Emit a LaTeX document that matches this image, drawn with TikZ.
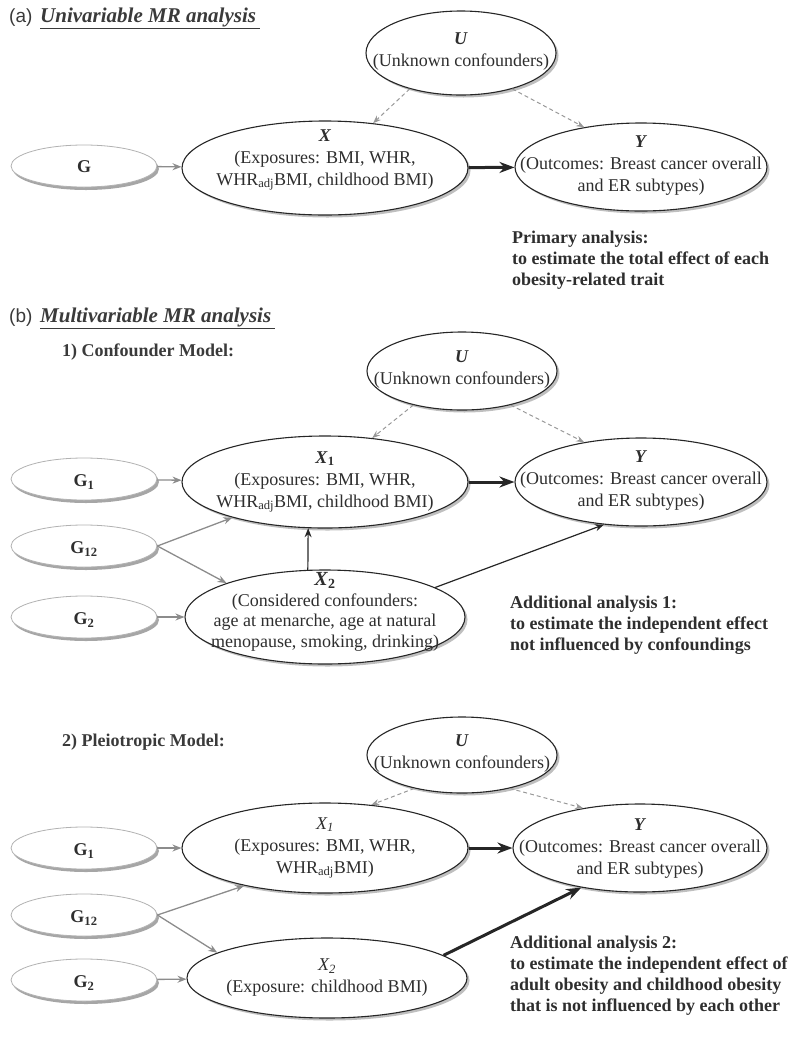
\documentclass[tikz,border=0pt]{standalone}
\usepackage{fontspec}
\setmainfont{Liberation Serif}
\newfontfamily\hdsans{Liberation Sans}
\usetikzlibrary{shapes.geometric,arrows.meta,shadows,calc}
\definecolor{txt}{HTML}{2E2E2E}
\definecolor{hdr}{HTML}{3A3A3A}
\tikzset{
  ell/.style={ellipse, draw=black!85, line width=1.1pt, fill=white, inner sep=0pt,
    drop shadow={shadow xshift=2.5pt, shadow yshift=-2.5pt, fill=black!25, opacity=1}},
  gell/.style={ellipse, draw=black!30, line width=0.8pt, fill=white, inner sep=0pt,
    minimum width=146pt, minimum height=42pt,
    drop shadow={shadow xshift=2pt, shadow yshift=-3pt, fill=black!35, opacity=1}},
  tx/.style={align=center, font=\fontsize{18}{22}\selectfont, text=txt, inner sep=0pt},
  gtx/.style={font=\bfseries\fontsize{18}{22}\selectfont, text=txt, inner sep=0pt},
  bt/.style={align=left, anchor=north west, inner sep=0pt, font=\bfseries\fontsize{18}{21}\selectfont, text=txt},
  hd/.style={anchor=west, inner sep=0pt, text=hdr},
  garr/.style={-{Stealth[length=9pt,width=7pt]}, draw=black!45, line width=1.3pt},
  karr/.style={-{Stealth[length=15pt,width=11pt]}, draw=black!85, line width=3pt},
  tarr/.style={-{Stealth[length=9pt,width=7pt]}, draw=black!85, line width=1.2pt},
  darr/.style={-{Stealth[length=8pt,width=6pt]}, dash pattern=on 4pt off 3pt, draw=black!40, line width=1pt},
}
\begin{document}
\begin{tikzpicture}[x=1pt,y=-1pt]
\useasboundingbox (0,0) rectangle (800,1037);
% ---------------- (a)
\node[hd] (ha) at (9,18) {\hdsans\fontsize{19}{20}\selectfont (a)};
\node[hd] (hat) at (40,18) {\bfseries\itshape\fontsize{21}{24}\selectfont\underline{Univariable MR analysis\,}};

\node[ell, minimum width=190pt, minimum height=84pt] (Ua) at (461,53) {};
\node[tx] (Uat) at (461,52) {\textbf{\textit{U}}\\(Unknown confounders)};
\node[ell, minimum width=286pt, minimum height=94pt] (Xa) at (325,168) {};
\node[tx] (Xat) at (325,160) {\textbf{\textit{X}}\\(Exposures: BMI, WHR,\\WHR\textsubscript{adj}BMI, childhood BMI)};
\node[ell, minimum width=252pt, minimum height=88pt] (Ya) at (641,167) {};
\node[tx] (Yat) at (641,166) {\textbf{\textit{Y}}\\(Outcomes: Breast cancer overall\\and ER subtypes)};
\node[gell] (Ga) at (84,166) {};
\node[gtx] (Gat) at (84,167) {G};

\draw[garr] (Ga) -- (Xa);
\draw[karr] (Xa) -- (Ya);
\draw[darr] (Ua.215) -- (Xa.43);
\draw[darr] (Ua.325) -- (Ya.145);

\node[bt] (pa) at (512,231) {Primary analysis:\\to estimate the total effect of each\\obesity-related trait};

% ---------------- (b)
\node[hd] (hb) at (9,318) {\hdsans\fontsize{19}{20}\selectfont (b)};
\node[hd] (hbt) at (40,318) {\bfseries\itshape\fontsize{21}{24}\selectfont\underline{Multivariable MR analysis\,}};
\node[hd] (m1) at (62,352) {\bfseries\fontsize{18}{20}\selectfont 1) Confounder Model:};

\node[ell, minimum width=190pt, minimum height=78pt] (U1) at (462,371) {};
\node[tx] (U1t) at (462,370) {\textbf{\textit{U}}\\(Unknown confounders)};
\node[ell, minimum width=286pt, minimum height=92pt] (X1) at (325,482) {};
\node[tx] (X1t) at (325,482) {\textbf{\textit{X}\textsubscript{1}}\\(Exposures: BMI, WHR,\\WHR\textsubscript{adj}BMI, childhood BMI)};
\node[ell, minimum width=252pt, minimum height=88pt] (Y1) at (641,482) {};
\node[tx] (Y1t) at (641,481) {\textbf{\textit{Y}}\\(Outcomes: Breast cancer overall\\and ER subtypes)};
\node[ell, minimum width=280pt, minimum height=94pt] (X2) at (325,617) {};
\node[tx, font=\fontsize{18}{20.5}\selectfont] (X2t) at (325,612) {{\fontsize{20}{20}\selectfont\textbf{\textit{X}\textsubscript{2}}}\\(Considered confounders:\\age at menarche, age at natural\\menopause, smoking, drinking)};

\node[gell] (G1) at (84,479) {};
\node[gtx] (G1t) at (84,482) {G\textsubscript{1}};
\node[gell] (G12) at (84,546) {};
\node[gtx] (G12t) at (84,549) {G\textsubscript{12}};
\node[gell] (G2) at (84,617) {};
\node[gtx] (G2t) at (84,620) {G\textsubscript{2}};

\draw[garr] (G1) -- (X1);
\draw[garr] (G12.east) -- (X1.201);
\draw[garr] (G12.east) -- (X2.161);
\draw[garr] (G2) -- (X2);
\draw[tarr] (X2.110) -- (X1.250);
\draw[tarr] (X2.15) -- (Y1.229);
\draw[karr] (X1) -- (Y1);
\draw[darr] (U1.215) -- (X1.43);
\draw[darr] (U1.325) -- (Y1.145);

\node[bt] (pb1) at (510,596) {Additional analysis 1:\\to estimate the independent effect\\not influenced by confoundings};

% ---------------- model 2
\node[hd] (m2) at (62,742) {\bfseries\fontsize{18}{20}\selectfont 2) Pleiotropic Model:};

\node[ell, minimum width=190pt, minimum height=76pt] (U2) at (462,755) {};
\node[tx] (U2t) at (462,754) {\textbf{\textit{U}}\\(Unknown confounders)};
\node[ell, minimum width=286pt, minimum height=90pt] (X21) at (325,848) {};
\node[tx] (X21t) at (325,848) {\textit{X\textsubscript{1}}\\(Exposures: BMI, WHR,\\WHR\textsubscript{adj}BMI)};
\node[ell, minimum width=254pt, minimum height=88pt] (Y2) at (640,848) {};
\node[tx] (Y2t) at (640,849) {\textbf{\textit{Y}}\\(Outcomes: Breast cancer overall\\and ER subtypes)};
\node[ell, minimum width=280pt, minimum height=80pt] (X22) at (327,978) {};
\node[tx] (X22t) at (327,978) {\textit{X\textsubscript{2}}\\(Exposure: childhood BMI)};

\node[gell] (H1) at (84,848) {};
\node[gtx] (H1t) at (84,851) {G\textsubscript{1}};
\node[gell] (H12) at (84,915) {};
\node[gtx] (H12t) at (84,918) {G\textsubscript{12}};
\node[gell] (H2) at (84,980) {};
\node[gtx] (H2t) at (84,983) {G\textsubscript{2}};

\draw[garr] (H1) -- (X21);
\draw[garr] (H12.east) -- (X21.205);
\draw[garr] (H12.east) -- (X22.167);
\draw[garr] (H2) -- (X22);
\draw[karr] (X21) -- (Y2);
\draw[karr] (X22.11) -- (Y2.214);
\draw[darr] (U2.215) -- (X21.43);
\draw[darr] (U2.325) -- (Y2.145);

\node[bt] (pb2) at (510,936) {Additional analysis 2:\\to estimate the independent effect of\\adult obesity and childhood obesity\\that is not influenced by each other};
\end{tikzpicture}
\end{document}
